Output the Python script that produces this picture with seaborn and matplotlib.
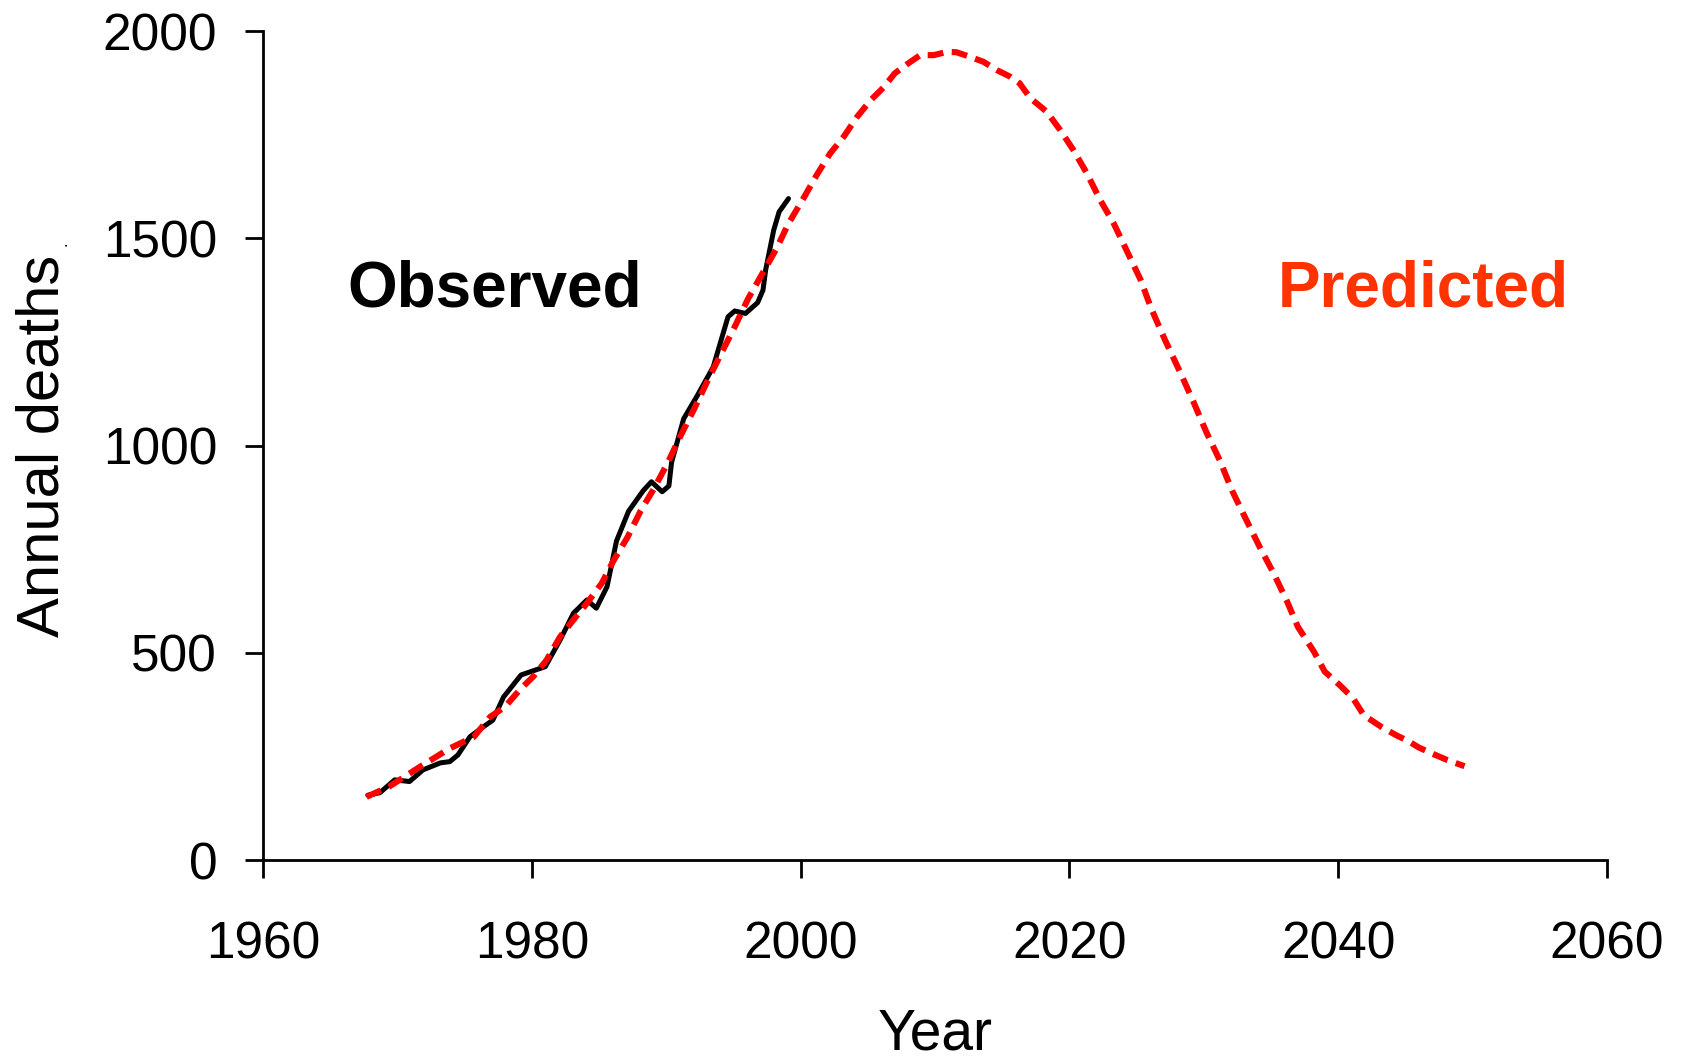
import matplotlib
matplotlib.use("Agg")
import matplotlib.pyplot as plt
import seaborn as sns
import pandas as pd

# ---- data ----
obs_years = [1967.8, 1968.7, 1969.8, 1970.9, 1971.9, 1973.2, 1973.9, 1974.5, 1975.4,
             1976.4, 1977.1, 1977.9, 1979.2, 1981.0, 1982.1, 1983.1, 1984.1, 1984.8,
             1985.6, 1986.3, 1987.2, 1988.3, 1988.9, 1989.7, 1990.2, 1990.4, 1991.3,
             1992.3, 1993.5, 1994.6, 1995.1, 1995.9, 1996.8, 1997.2, 1997.4, 1998.0,
             1998.4, 1999.1]
obs_deaths = [157, 163, 194, 190, 218, 235, 238, 254, 298,
              322, 338, 394, 447, 467, 531, 596, 628, 608,
              660, 770, 842, 892, 913, 889, 903, 960, 1065,
              1120, 1190, 1311, 1325, 1319, 1345, 1375, 1424, 1520,
              1564, 1596]

pred_years = [1967.7, 1969.4, 1971.7, 1973.9, 1975.7, 1976.9, 1978.0, 1979.1, 1980.1,
              1981.1, 1982.1, 1983.1, 1984.1, 1985.2, 1986.1, 1987.1, 1988.1, 1989.1,
              1990.1, 1991.1, 1992.1, 1993.1, 1994.1, 1995.1, 1996.1, 1997.1, 1998.2,
              1999.1, 2000.2, 2001.2, 2002.2, 2003.2, 2004.2, 2005.2, 2006.2, 2007.0,
              2008.0, 2008.9, 2009.9, 2010.9, 2011.6, 2012.6, 2013.6, 2014.6, 2015.6,
              2016.3, 2017.1, 2018.3, 2019.3, 2020.3, 2021.3, 2022.3, 2023.3, 2024.3,
              2025.3, 2026.1, 2027.1, 2028.2, 2029.2, 2030.2, 2031.2, 2032.1, 2033.1,
              2034.2, 2035.2, 2036.2, 2037.0, 2038.2, 2039.0, 2040.1, 2041.1, 2041.9,
              2043.2, 2044.3, 2045.3, 2046.0, 2047.1, 2048.1, 2049.4]
pred_deaths = [153, 178, 226, 270, 298, 346, 370, 411, 443,
               483, 539, 580, 620, 668, 724, 778, 843, 897,
               958, 1026, 1090, 1158, 1223, 1287, 1355, 1412, 1475,
               1536, 1596, 1653, 1705, 1745, 1793, 1833, 1865, 1898,
               1922, 1942, 1942, 1950, 1949, 1938, 1926, 1906, 1890,
               1874, 1838, 1806, 1762, 1713, 1657, 1592, 1536, 1468,
               1400, 1330, 1256, 1180, 1108, 1032, 964, 892, 825,
               753, 692, 624, 563, 503, 455, 423, 391, 350,
               322, 302, 286, 272, 256, 242, 227]

x_ticks = [1960, 1980, 2000, 2020, 2040, 2060]
y_ticks = [0, 500, 1000, 1500, 2000]

obs_df = pd.DataFrame({"Year": obs_years, "Deaths": obs_deaths})
pred_df = pd.DataFrame({"Year": pred_years, "Deaths": pred_deaths})

sns.set_style("ticks")
plt.rcParams["font.family"] = ["Liberation Sans", "DejaVu Sans"]
plt.rcParams["text.color"] = "black"
plt.rcParams["axes.labelcolor"] = "black"

fig = plt.figure(figsize=(16.82, 10.61), dpi=100)
ax = fig.add_axes([263 / 1682, 1 - 860.3 / 1061, 1344 / 1682, 829.2 / 1061])

sns.lineplot(data=obs_df, x="Year", y="Deaths", ax=ax, color="black",
             linewidth=3.6, estimator=None, sort=False)
sns.lineplot(data=pred_df, x="Year", y="Deaths", ax=ax, color="#FF0000",
             linewidth=4.4, estimator=None, sort=False)
ax.lines[0].set_solid_capstyle("round")
ax.lines[0].set_solid_joinstyle("round")
ax.lines[1].set_dashes((2.6, 1.4))
ax.lines[1].set_dash_capstyle("butt")

ax.set_xlim(1960, 2060)
ax.set_ylim(0, 2000)
ax.set_xticks(x_ticks)
ax.set_yticks(y_ticks)
ax.set_xticklabels([str(t) for t in x_ticks])
ax.set_yticklabels([str(t) for t in y_ticks])

for side in ["top", "right"]:
    ax.spines[side].set_visible(False)
for side in ["left", "bottom"]:
    ax.spines[side].set_linewidth(2.0)
    ax.spines[side].set_color("black")

ax.tick_params(axis="both", direction="out", length=13, width=2.0,
               colors="black", labelsize=37)
ax.tick_params(axis="y", pad=20)
ax.tick_params(axis="x", pad=30)

ax.set_xlabel("Year", fontsize=41, color="black")
ax.set_ylabel("Annual deaths", fontsize=43, color="black")
ax.xaxis.set_label_coords(0.5, -0.177)
ax.yaxis.set_label_coords(-0.143, 0.500)

# tiny trailing period of the y label
fig.text(62 / 1682, 1 - 244 / 1061, ".", fontsize=12, rotation=90,
         ha="center", va="center", color="black")

ax.text(1966.3, 1335, "Observed", fontsize=46, fontweight="bold",
        color="black", ha="left", va="baseline")
ax.text(2035.5, 1335, "Predicted", fontsize=46, fontweight="bold",
        color="#FF3300", ha="left", va="baseline")

fig.savefig("out.png", dpi=100, facecolor="white")
